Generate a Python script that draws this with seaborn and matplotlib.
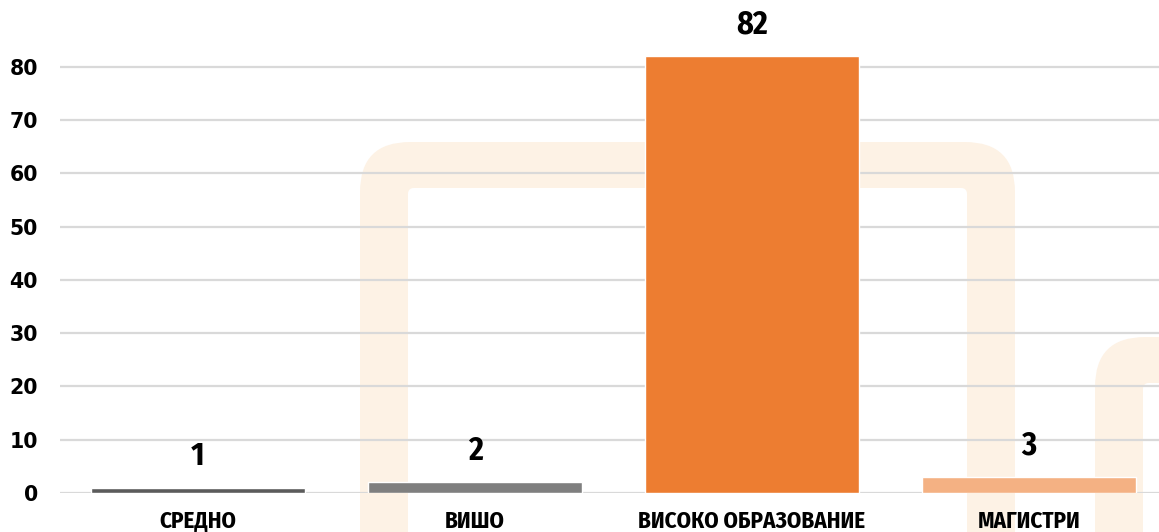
import matplotlib
matplotlib.use("Agg")
import matplotlib.pyplot as plt
from matplotlib.patches import FancyBboxPatch
import seaborn as sns
import pandas as pd

# Education level counts
categories = ["СРЕДНО", "ВИШО", "ВИСОКО ОБРАЗОВАНИЕ", "МАГИСТРИ"]
values = [1, 2, 82, 3]
bar_colors = ["#5b5b5b", "#7f7f7f", "#ED7D31", "#F4B183"]
y_ticks = [0, 10, 20, 30, 40, 50, 60, 70, 80]

sns.set_theme(style="white")
COND = ["Fira Sans Condensed", "DejaVu Sans"]
plt.rcParams["font.family"] = COND

W, H = 1159, 532
fig = plt.figure(figsize=(W / 100, H / 100), dpi=100, facecolor="white")

# Faint logo shapes in the background (pixel coordinates)
bg = fig.add_axes([0, 0, 1, 1], zorder=0)
bg.set_xlim(0, W)
bg.set_ylim(H, 0)
bg.axis("off")
tint = "#FDF2E5"
for (x0, y0, x1), thick in [((360, 142, 1015), 48), ((1095, 337, 1450), 48)]:
    bg.add_patch(FancyBboxPatch((x0, y0), x1 - x0, 700,
                                boxstyle="round,pad=0,rounding_size=50",
                                fc=tint, ec="none"))
    bg.add_patch(FancyBboxPatch((x0 + thick, y0 + thick - 2), x1 - x0 - 2 * thick, 700,
                                boxstyle="round,pad=0,rounding_size=6",
                                fc="white", ec="none"))

ax = fig.add_axes([60 / W, (H - 493) / H, 1 - 60 / W, 493 / H], zorder=1)
ax.set_facecolor("none")

df = pd.DataFrame({"level": categories, "count": values})
sns.barplot(data=df, x="level", y="count", hue="level", palette=bar_colors,
            order=categories, hue_order=categories, width=0.77, saturation=1,
            legend=False, ax=ax, zorder=3)

for cont in ax.containers:
    ax.bar_label(cont, labels=[f"{v:g}" for v in cont.datavalues], padding=11,
                 fontsize=23, fontweight="bold", color="black", family=COND)

ax.set_ylim(0, 92.5)
ax.set_xlim(-0.498, 3.469)
ax.set_yticks(y_ticks)
ax.yaxis.grid(True, color="#d9d9d9", linewidth=1.6, zorder=0)
ax.set_axisbelow(True)
for s in ax.spines.values():
    s.set_visible(False)
ax.set_xlabel("")
ax.set_ylabel("")
ax.tick_params(axis="both", length=0)
ax.tick_params(axis="y", pad=16)
ax.tick_params(axis="x", pad=12)
for lbl in ax.get_yticklabels():
    lbl.set_fontfamily("DejaVu Sans")
    lbl.set_fontweight("bold")
    lbl.set_fontsize(14.8)
    lbl.set_color("black")
for lbl in ax.get_xticklabels():
    lbl.set_fontfamily(COND)
    lbl.set_fontweight("bold")
    lbl.set_fontsize(16.5)
    lbl.set_color("black")

fig.savefig("out.png", dpi=100, facecolor="white")
